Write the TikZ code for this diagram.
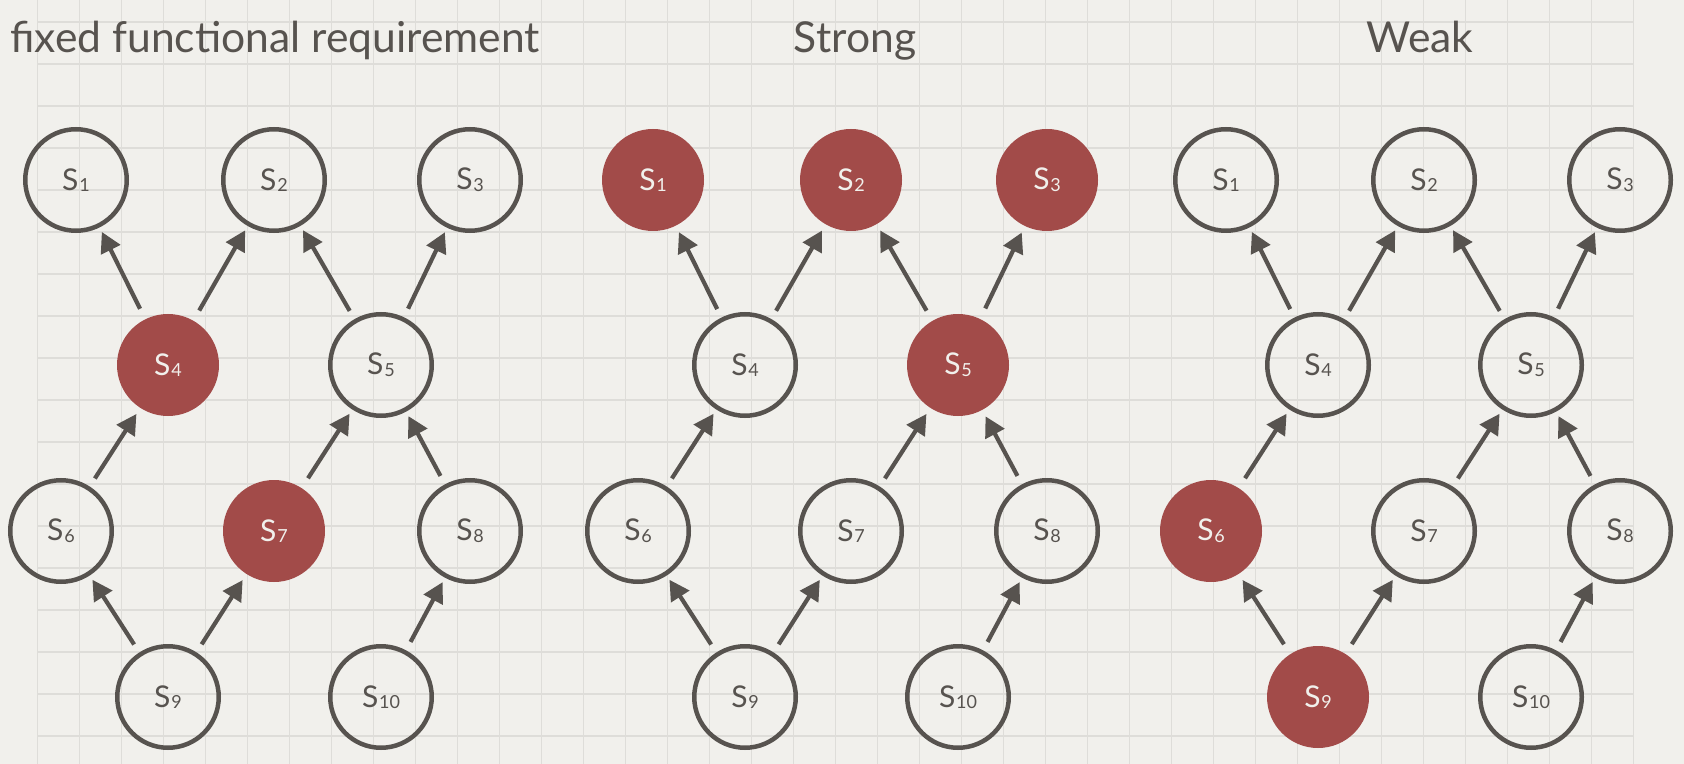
\documentclass[tikz,border=0pt]{standalone}
\usepackage{fontspec}
\setmainfont{Lato}
\usetikzlibrary{arrows.meta}
\definecolor{paper}{HTML}{F1F0EC}
\definecolor{gridline}{HTML}{DEDDD9}
\definecolor{ink}{HTML}{57534F}
\definecolor{brick}{HTML}{A24B49}
\newcommand{\st}[1]{S\kern0.4pt{\fontsize{9}{9}\selectfont\raisebox{-0.8pt}{#1}}}
\tikzset{
    state/.style={circle, draw=ink, line width=2.25pt, minimum size=50.75pt,
        inner sep=0pt, text=ink, font=\fontsize{15}{15}\selectfont},
    hot/.style={fill=brick, draw=none, minimum size=51pt, text=paper},
    link/.style={-{Triangle[length=10pt,width=10.5pt]}, draw=ink, line width=2.1pt,
        shorten <=4.75pt, shorten >=2.5pt},
    title/.style={text=ink, font=\fontsize{21.3}{21.3}\selectfont, inner sep=0pt},
    n1/.style={}, n2/.style={}, n3/.style={}, n4/.style={}, n5/.style={},
    n6/.style={}, n7/.style={}, n8/.style={}, n9/.style={}, n10/.style={},
    pics/lattice/.code = {
        \node[state, n1] (s1) at (76,180) {\st{1}};
        \node[state, n2] (s2) at (274,180) {\st{2}};
        \node[state, n3] (s3) at (470,180) {\st{3}};
        \node[state, n4] (s4) at (168,365) {\st{4}};
        \node[state, n5] (s5) at (381,365) {\st{5}};
        \node[state, n6] (s6) at (61,531) {\st{6}};
        \node[state, n7] (s7) at (274,531) {\st{7}};
        \node[state, n8] (s8) at (470,531) {\st{8}};
        \node[state, n9] (s9) at (168,697) {\st{9}};
        \node[state, n10] (s10) at (381,697) {\st{10}};

        % arrows
        \draw[link] (s4) -- (s1);
        \draw[link] (s4) -- (s2);
        \draw[link] (s5) -- (s2);
        \draw[link] (s5) -- (s3);
        \draw[link] (s6) -- (s4);
        \draw[link] (s7) -- (s5);
        \draw[link] (s8) -- (s5);
        \draw[link] (s9) -- (s6);
        \draw[link] (s9) -- (s7);
        \draw[link] (s10) -- (s8);
    }
}
\begin{document}
\begin{tikzpicture}[x=0.5pt, y=-0.5pt]
    \useasboundingbox (0,0) rectangle (1684,764);
    \fill[paper] (0,0) rectangle (1684,764);
    % paper grid
    \foreach \i in {0,...,38}
        \draw[gridline, line width=0.75pt] ({37.5+42*\i},0) -- ({37.5+42*\i},764);
    \foreach \j in {0,...,17}
        \draw[gridline, line width=0.75pt] (37.5,{22+42*\j}) -- (1633.5,{22+42*\j});

    \node[title, anchor=base west] (fixed) at (10,53) {fixed functional requirement};
    \node[title, anchor=base] (strong) at (855,53) {Strong};
    \node[title, anchor=base] (weak) at (1420,53) {Weak};

    \begin{scope}[n4/.style=hot, n7/.style=hot]
        \pic (fr) {lattice};
    \end{scope}
    \begin{scope}[shift={(577,0)}, n1/.style=hot, n2/.style=hot, n3/.style=hot, n5/.style=hot]
        \pic (sg) {lattice};
    \end{scope}
    \begin{scope}[shift={(1150,0)}, n6/.style=hot, n9/.style=hot]
        \pic (wk) {lattice};
    \end{scope}
\end{tikzpicture}
\end{document}
